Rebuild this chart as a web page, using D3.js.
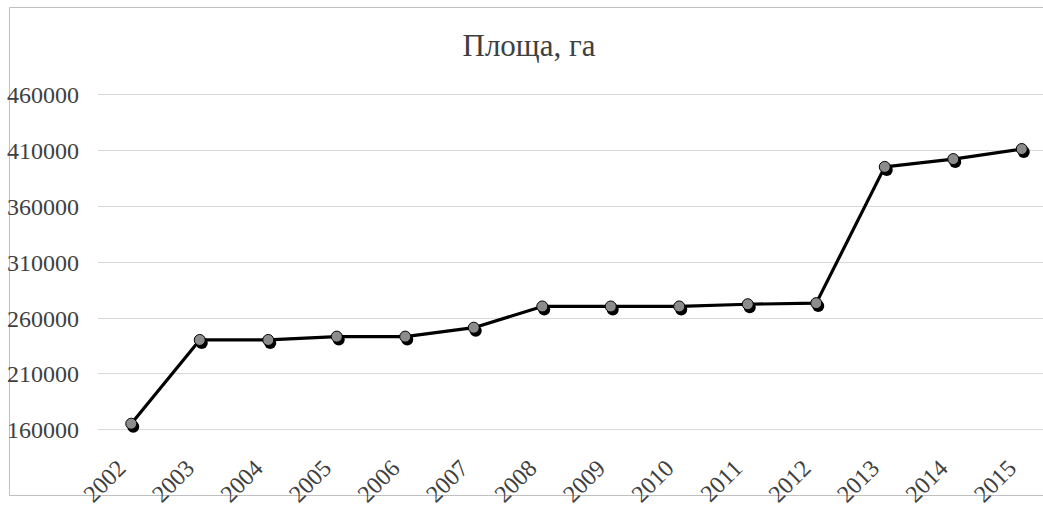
<!DOCTYPE html>
<html>
<head>
<meta charset="utf-8">
<script src="https://cdn.jsdelivr.net/npm/d3@7"></script>
<style>
  body { margin: 0; background: #fff; }
  svg { display: block; }
  text { font-family: "Liberation Serif", "Times New Roman", serif; fill: #404040; }
</style>
</head>
<body>
<script>
'use strict';

var years = ['2002', '2003', '2004', '2005', '2006', '2007', '2008',
  '2009', '2010', '2011', '2012', '2013', '2014', '2015'];
var area = [165000, 240000, 240000, 243000, 243000, 251000, 270000,
  270000, 270000, 272000, 273000, 395000, 402000, 411000];
var yTicks = [160000, 210000, 260000, 310000, 360000, 410000, 460000];
var title = 'Площа, га';

var width = 1043;
var height = 506;

var svg = d3.select('body').append('svg')
  .attr('width', width)
  .attr('height', height);

// chart frame (cropped on the right in the original)
svg.append('path')
  .attr('d', 'M1043,7.5 H9.5 V495.5 H1043')
  .attr('fill', 'none')
  .attr('stroke', '#c0c0c0')
  .attr('stroke-width', 1);

var x = d3.scaleBand().domain(years).range([97, 1056]);

var y = d3.scaleLinear().domain([160000, 460000]).range([429.3, 94.3]);

svg.append('text')
  .attr('x', 529)
  .attr('y', 56)
  .attr('text-anchor', 'middle')
  .style('font-size', '31px')
  .text(title);

// gridlines
svg.append('g')
  .selectAll('line')
  .data(yTicks)
  .enter().append('line')
  .attr('x1', 98)
  .attr('x2', width)
  .attr('y1', function(d) { return Math.round(y(d)) + 0.5; })
  .attr('y2', function(d) { return Math.round(y(d)) + 0.5; })
  .attr('stroke', '#d9d9d9')
  .attr('stroke-width', 1);

var yAxis = svg.append('g')
  .attr('transform', 'translate(79,0)')
  .call(d3.axisLeft(y).tickValues(yTicks).tickSize(0).tickPadding(0).tickFormat(d3.format('d')));
yAxis.select('.domain').remove();
yAxis.selectAll('text')
  .style('font-size', '24px')
  .style('font-family', '"Liberation Serif", serif')
  .attr('fill', '#404040')
  .attr('dy', '0.35em');

var xAxis = svg.append('g')
  .attr('transform', 'translate(0,458)')
  .call(d3.axisBottom(x).tickSize(0).tickPadding(0));
xAxis.select('.domain').remove();
xAxis.selectAll('text')
  .style('font-size', '24px')
  .style('font-family', '"Liberation Serif", serif')
  .attr('fill', '#404040')
  .attr('text-anchor', 'end')
  .attr('dy', '0.7em')
  .attr('transform', 'translate(-16,0) rotate(-45)');

var pts = years.map(function(d, i) { return [x(d) + x.bandwidth() / 2, y(area[i])]; });

svg.append('path')
  .attr('d', d3.line()(pts))
  .attr('fill', 'none')
  .attr('stroke', '#000')
  .attr('stroke-width', 3.2)
  .attr('stroke-linejoin', 'round');

// marker shadows
svg.append('g')
  .selectAll('circle')
  .data(pts)
  .enter().append('circle')
  .attr('cx', function(d) { return d[0] + 2; })
  .attr('cy', function(d) { return d[1] + 3; })
  .attr('r', 6)
  .attr('fill', '#000');

svg.append('g')
  .selectAll('circle')
  .data(pts)
  .enter().append('circle')
  .attr('cx', function(d) { return d[0]; })
  .attr('cy', function(d) { return d[1]; })
  .attr('r', 5.5)
  .attr('fill', '#8c8c8c')
  .attr('stroke', '#000')
  .attr('stroke-width', 1);
</script>
</body>
</html>
